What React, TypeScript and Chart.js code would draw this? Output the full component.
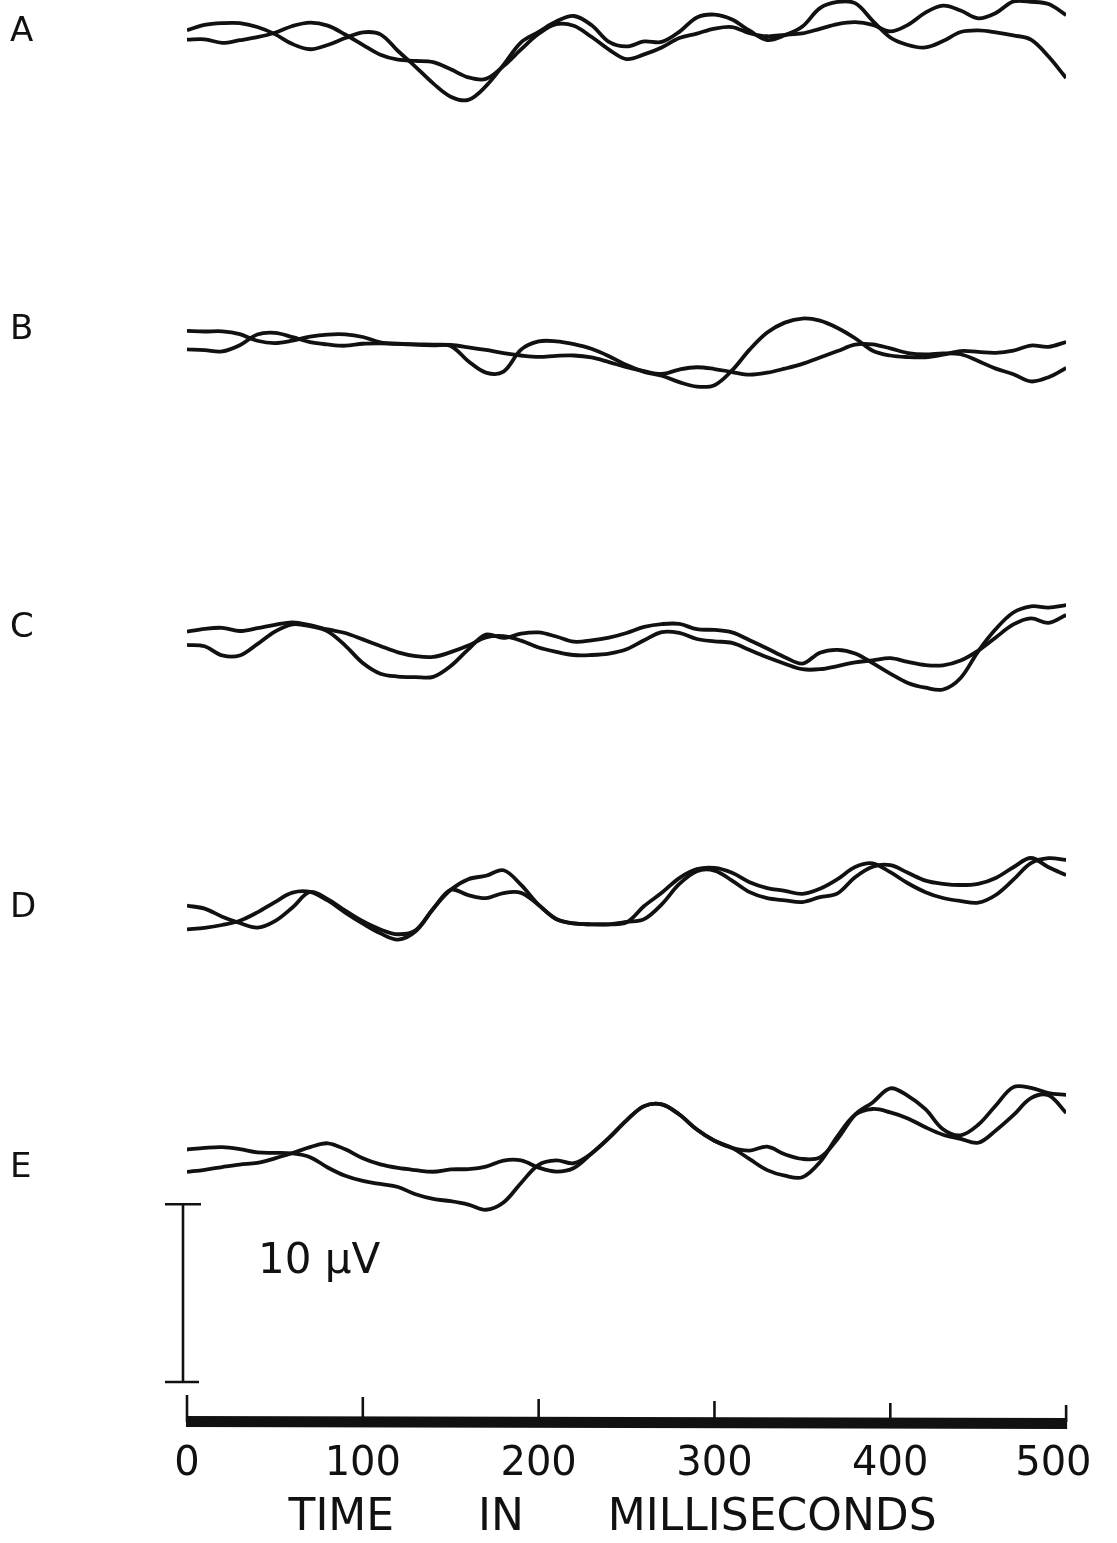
import React, { useEffect, useRef } from 'react';
import { Chart, registerables } from 'chart.js';

Chart.register(...registerables);

// ---- data (time in ms, potentials in µV relative to each trace pair's baseline) ----
const times = [0, 10, 20, 30, 40, 50, 60, 70, 80, 90, 100, 110, 120, 130, 140, 150, 160, 170, 180, 190, 200, 210, 220, 230, 240, 250, 260, 270, 280, 290, 300, 310, 320, 330, 340, 350, 360, 370, 380, 390, 400, 410, 420, 430, 440, 450, 460, 470, 480, 490, 500];

const traceA1 = [0.80, 1.10, 1.20, 1.20, 0.98, 0.58, 0.02, -0.27, -0.03, 0.36, 0.68, 0.57, -0.37, -1.26, -2.19, -2.94, -3.12, -2.35, -1.15, 0.12, 0.71, 1.29, 1.60, 1.09, 0.14, -0.11, 0.17, 0.14, 0.71, 1.52, 1.68, 1.40, 0.77, 0.25, 0.52, 1.01, 2.04, 2.39, 2.32, 1.33, 0.39, -0.03, -0.17, 0.19, 0.70, 0.79, 0.68, 0.51, 0.27, -0.68, -1.89];
const traceA2 = [0.27, 0.29, 0.09, 0.24, 0.41, 0.66, 1.04, 1.23, 1.06, 0.56, -0.02, -0.58, -0.86, -0.93, -1.00, -1.40, -1.85, -1.94, -1.22, -0.28, 0.60, 1.14, 1.05, 0.43, -0.29, -0.82, -0.56, -0.17, 0.36, 0.61, 0.89, 0.98, 0.63, 0.46, 0.54, 0.62, 0.88, 1.14, 1.25, 1.10, 0.73, 1.10, 1.79, 2.18, 1.91, 1.47, 1.77, 2.42, 2.40, 2.27, 1.65];

const traceB1 = [0.89, 0.85, 0.86, 0.70, 0.33, 0.20, 0.34, 0.56, 0.68, 0.69, 0.54, 0.24, 0.16, 0.13, 0.11, 0.09, -0.04, -0.19, -0.37, -0.50, -0.58, -0.52, -0.50, -0.61, -0.87, -1.15, -1.38, -1.54, -1.29, -1.16, -1.26, -1.43, -1.58, -1.47, -1.24, -0.97, -0.61, -0.25, 0.11, 0.13, -0.10, -0.36, -0.44, -0.38, -0.43, -0.81, -1.24, -1.55, -1.96, -1.72, -1.20];
const traceB2 = [-0.15, -0.20, -0.27, 0.08, 0.68, 0.77, 0.53, 0.25, 0.12, 0.05, 0.16, 0.18, 0.15, 0.11, 0.07, 0.04, -0.82, -1.46, -1.41, -0.17, 0.29, 0.30, 0.14, -0.12, -0.54, -1.04, -1.42, -1.64, -2.00, -2.25, -2.17, -1.34, -0.17, 0.79, 1.35, 1.58, 1.46, 1.05, 0.47, -0.23, -0.50, -0.59, -0.60, -0.45, -0.25, -0.30, -0.35, -0.22, 0.06, -0.01, 0.26];

const traceC1 = [0.46, 0.62, 0.68, 0.50, 0.66, 0.85, 0.99, 0.83, 0.59, 0.39, 0.03, -0.34, -0.70, -0.91, -0.96, -0.69, -0.32, 0.14, 0.21, -0.04, -0.43, -0.67, -0.85, -0.85, -0.77, -0.53, -0.02, 0.44, 0.39, 0.05, -0.08, -0.17, -0.57, -0.98, -1.34, -1.65, -1.65, -1.47, -1.26, -1.15, -1.03, -1.24, -1.42, -1.43, -1.16, -0.60, 0.14, 0.87, 1.21, 0.96, 1.40];
const traceC2 = [-0.28, -0.36, -0.87, -0.88, -0.24, 0.47, 0.88, 0.77, 0.48, -0.32, -1.30, -1.90, -2.06, -2.09, -2.08, -1.47, -0.53, 0.30, 0.11, 0.35, 0.42, 0.19, -0.10, -0.03, 0.13, 0.39, 0.73, 0.89, 0.90, 0.60, 0.56, 0.42, -0.02, -0.48, -0.97, -1.33, -0.72, -0.56, -0.77, -1.31, -1.90, -2.42, -2.69, -2.79, -2.14, -0.64, 0.61, 1.54, 1.89, 1.82, 1.96];

const traceD1 = [0.05, -0.12, -0.57, -0.93, -1.19, -0.82, -0.05, 0.82, 0.42, -0.23, -0.83, -1.29, -1.56, -1.34, -0.12, 0.94, 1.54, 1.73, 2.04, 1.22, 0.09, -0.70, -0.95, -1.00, -1.00, -0.89, 0.03, 0.77, 1.60, 2.10, 2.17, 1.90, 1.37, 1.04, 0.88, 0.71, 1.00, 1.54, 2.22, 2.43, 1.93, 1.31, 0.81, 0.48, 0.31, 0.22, 0.65, 1.51, 2.44, 2.72, 2.62];
const traceD2 = [-1.29, -1.20, -1.04, -0.80, -0.33, 0.25, 0.78, 0.82, 0.34, -0.34, -0.96, -1.51, -1.86, -1.39, -0.14, 0.94, 0.64, 0.47, 0.76, 0.77, 0.09, -0.71, -0.95, -1.00, -1.00, -0.87, -0.71, 0.12, 1.27, 1.99, 2.02, 1.46, 0.81, 0.47, 0.35, 0.25, 0.53, 0.74, 1.65, 2.24, 2.33, 1.90, 1.46, 1.28, 1.21, 1.28, 1.61, 2.21, 2.73, 2.21, 1.77];

const traceE1 = [0.33, 0.42, 0.46, 0.35, 0.17, 0.14, 0.11, -0.10, -0.68, -1.15, -1.44, -1.61, -1.78, -2.19, -2.45, -2.58, -2.77, -3.06, -2.65, -1.55, -0.53, -0.28, -0.44, 0.10, 0.98, 1.97, 2.77, 2.87, 2.30, 1.45, 0.82, 0.42, 0.27, 0.49, 0.06, -0.20, -0.11, 0.92, 2.29, 2.98, 3.77, 3.35, 2.60, 1.47, 1.13, 1.72, 2.81, 3.84, 3.80, 3.50, 3.40];
const traceE2 = [-0.93, -0.81, -0.66, -0.52, -0.42, -0.17, 0.13, 0.46, 0.68, 0.34, -0.16, -0.51, -0.71, -0.83, -0.92, -0.79, -0.77, -0.63, -0.29, -0.28, -0.69, -0.91, -0.71, 0.10, 0.98, 1.97, 2.77, 2.87, 2.30, 1.45, 0.82, 0.42, -0.21, -0.83, -1.14, -1.23, -0.38, 1.08, 2.28, 2.61, 2.42, 2.08, 1.58, 1.16, 0.93, 0.71, 1.40, 2.26, 3.22, 3.38, 2.39];

const rowLabels = ['A', 'B', 'C', 'D', 'E'];
const xTicks = [0, 100, 200, 300, 400, 500];
const tickLabels = ['0', '100', '200', '300', '400', '500'];
const axisTitle = 'TIME      IN      MILLISECONDS  ';
const scaleBarValue = 10; // µV
const scaleBarLabel = '10 µV';

// ---- layout (not data) ----
const W = 1117;
const H = 1543;
const INK = '#111';
const Y_MAX = 80; // µV spanned by the plot area
const rowOffsets = [77.5, 60.5, 44, 29, 15]; // vertical placement of each pair, µV
const rowLabelPx = [32, 330, 628, 908, 1168];
const SCALE_BAR_BASE = 2.25; // µV
const FONT = "'DejaVu Sans', 'Liberation Sans', sans-serif";

const rowTraces = [
  [traceA1, traceA2],
  [traceB1, traceB2],
  [traceC1, traceC2],
  [traceD1, traceD2],
  [traceE1, traceE2],
];

const overlayPlugin = {
  id: 'eegOverlay',
  afterDraw(chart: any) {
    const { ctx, chartArea, scales } = chart;
    const x = scales.x;
    const y = scales.y;
    const b = chartArea.bottom;
    ctx.save();
    ctx.fillStyle = INK;
    ctx.strokeStyle = INK;
    ctx.lineCap = 'butt';

    // time axis bar
    const x0 = x.getPixelForValue(xTicks[0]);
    const x1 = x.getPixelForValue(xTicks[xTicks.length - 1]);
    ctx.beginPath();
    ctx.moveTo(x0 - 1, b - 6);
    ctx.lineTo(x1 + 1, b - 4);
    ctx.lineTo(x1 + 1, b + 7);
    ctx.lineTo(x0 - 1, b + 5);
    ctx.closePath();
    ctx.fill();
    ctx.lineWidth = 2.6;
    xTicks.forEach((t, i) => {
      const px = x.getPixelForValue(t);
      ctx.beginPath();
      ctx.moveTo(px, b - 27 + i * 2);
      ctx.lineTo(px, b);
      ctx.stroke();
    });

    // calibration bar
    const sx = chartArea.left - 4;
    const yTop = y.getPixelForValue(SCALE_BAR_BASE + scaleBarValue);
    const yBot = y.getPixelForValue(SCALE_BAR_BASE);
    ctx.lineWidth = 2.6;
    ctx.beginPath();
    ctx.moveTo(sx, yTop);
    ctx.lineTo(sx, yBot);
    ctx.moveTo(sx - 18, yTop);
    ctx.lineTo(sx + 18, yTop);
    ctx.moveTo(sx - 18, yBot);
    ctx.lineTo(sx + 16, yBot);
    ctx.stroke();

    ctx.font = `42px ${FONT}`;
    ctx.textAlign = 'left';
    ctx.textBaseline = 'middle';
    ctx.fillText(scaleBarLabel, chartArea.left + 71, y.getPixelForValue(SCALE_BAR_BASE + 6.75));

    // row letters
    ctx.font = `34px ${FONT}`;
    rowLabels.forEach((l, i) => {
      ctx.fillText(l, 10, rowLabelPx[i]);
    });
    ctx.restore();
  },
};

export default function App() {
  const canvasRef = useRef<HTMLCanvasElement>(null);

  useEffect(() => {
    document.body.style.margin = '0';
    document.body.style.background = '#ffffff';
    const canvas = canvasRef.current;
    if (!canvas) return;

    const datasets: any[] = [];
    rowTraces.forEach((pair, r) => {
      pair.forEach((vals, j) => {
        datasets.push({
          label: `${rowLabels[r]}${j + 1}`,
          data: times.map((t, i) => ({ x: t, y: rowOffsets[r] + vals[i] })),
          borderColor: INK,
          borderWidth: 3.8,
          pointRadius: 0,
          tension: 0.35,
          fill: false,
        });
      });
    });

    const chart = new Chart(canvas, {
      type: 'line',
      data: { datasets },
      options: {
        animation: false,
        responsive: false,
        devicePixelRatio: 1,
        layout: { padding: { left: 187, right: 50, top: 0, bottom: 0 } },
        plugins: { legend: { display: false }, tooltip: { enabled: false } },
        scales: {
          x: {
            type: 'linear',
            min: 0,
            max: 500,
            grid: { display: false, drawTicks: false },
            border: { display: false },
            afterBuildTicks: (scale: any) => {
              scale.ticks = xTicks.map((v) => ({ value: v }));
            },
            ticks: {
              autoSkip: false,
              maxRotation: 0,
              padding: 0,
              color: INK,
              font: { family: FONT, size: 40, lineHeight: 2.15 },
              callback: (value: any) => {
                const i = xTicks.indexOf(Number(value));
                if (i < 0) return '';
                return i === xTicks.length - 1 ? tickLabels[i] + '  ' : tickLabels[i];
              },
            },
            title: {
              display: true,
              text: axisTitle,
              color: INK,
              font: { family: FONT, size: 44, lineHeight: 0.5 },
              padding: { top: 0, bottom: 13 },
            },
          },
          y: {
            type: 'linear',
            display: false,
            min: 0,
            max: Y_MAX,
          },
        },
      },
      plugins: [overlayPlugin],
    });

    return () => chart.destroy();
  }, []);

  return (
    <div style={{ position: 'absolute', left: 0, top: 0, width: W, height: H, background: '#fff' }}>
      <canvas ref={canvasRef} width={W} height={H} style={{ display: 'block', width: W, height: H }} />
    </div>
  );
}
